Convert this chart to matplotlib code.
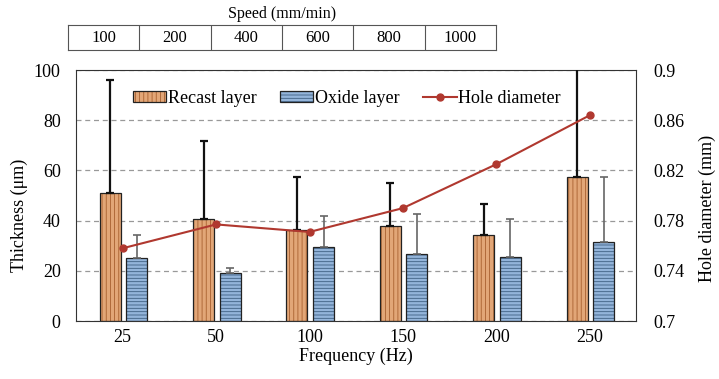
import numpy as np
import matplotlib
matplotlib.use("Agg")
import matplotlib.pyplot as plt
from matplotlib.patches import Patch
from matplotlib.lines import Line2D
from matplotlib.legend_handler import HandlerTuple

plt.rcParams['font.family'] = ['Liberation Serif', 'DejaVu Serif']
plt.rcParams['hatch.linewidth'] = 0.6

# data
freq = ['25', '50', '100', '150', '200', '250']
speed = ['100', '200', '400', '600', '800', '1000']
recast = [50.9, 40.8, 36.3, 37.8, 34.4, 57.2]
recast_err = [45.1, 30.8, 21.2, 17.1, 12.2, 46.0]
oxide = [25.2, 19.0, 29.6, 26.7, 25.5, 31.5]
oxide_err = [9.1, 2.1, 12.2, 15.8, 15.0, 26.0]
hole = [0.758, 0.777, 0.771, 0.790, 0.825, 0.864]

c_rec, h_rec = '#E2A677', '#A8602F'
c_oxi, h_oxi = '#93B4DA', '#3E5F82'
c_line = '#B0382F'
fs = 13

fig = plt.figure(figsize=(7.19, 3.79), dpi=100)
ax = fig.add_axes([0.1057, 0.153, 0.7795, 0.662])
x = np.arange(len(freq))
w = 0.225
xr = x - 0.135
xo = x + 0.15

ax.set_axisbelow(True)
ax.yaxis.grid(True, linestyle=(0, (4, 3)), color='#999999', linewidth=0.9)

ax.bar(xr, recast, w, color=c_rec, edgecolor=h_rec, hatch='||||', linewidth=0, zorder=2)
ax.bar(xr, recast, w, fill=False, edgecolor='#222222', linewidth=0.9, zorder=3)
ax.bar(xo, oxide, w, color=c_oxi, edgecolor=h_oxi, hatch='-----', linewidth=0, zorder=2)
ax.bar(xo, oxide, w, fill=False, edgecolor='#222222', linewidth=0.9, zorder=3)

ax.errorbar(xr, recast, yerr=[np.zeros(6), recast_err], fmt='none', ecolor='#111111',
            elinewidth=1.6, capsize=3, capthick=1.6, zorder=4)
ax.errorbar(xo, oxide, yerr=[np.zeros(6), oxide_err], fmt='none', ecolor='#666666',
            elinewidth=1.2, capsize=3, capthick=1.2, zorder=4)

ax.set_xlim(-0.5, 5.5)
ax.set_ylim(0, 100)
ax.set_yticks([0, 20, 40, 60, 80, 100])
ax.set_xticks(x)
ax.set_xticklabels(freq)
ax.tick_params(axis='y', length=0, labelsize=fs, pad=11)
ax.tick_params(axis='x', length=0, labelsize=fs, pad=6)
ax.set_xlabel('Frequency (Hz)', fontsize=fs, labelpad=1)
for s in ax.spines.values():
    s.set_color('#333333')
    s.set_linewidth(0.8)
fig.text(19 / 719, 1 - 215 / 379, 'Thickness (μm)', rotation=90, ha='center', va='center', fontsize=fs)

ax2 = ax.twinx()
ax2.plot(x, hole, color=c_line, marker='o', markersize=5, linewidth=1.5, zorder=5)
ax2.set_ylim(0.7, 0.9)
ax2.set_yticks([0.7, 0.74, 0.78, 0.82, 0.86, 0.9])
ax2.set_yticklabels(['0.7', '0.74', '0.78', '0.82', '0.86', '0.9'])
ax2.tick_params(length=0, labelsize=fs, pad=12)
for s in ax2.spines.values():
    s.set_visible(False)
fig.text(707 / 719, 1 - 208 / 379, 'Hole diameter (mm)', rotation=90, ha='center', va='center', fontsize=fs)

hr = (Patch(facecolor=c_rec, edgecolor=h_rec, hatch='||||', linewidth=0),
      Patch(fill=False, edgecolor='#222222', linewidth=0.9))
ho = (Patch(facecolor=c_oxi, edgecolor=h_oxi, hatch='-----', linewidth=0),
      Patch(fill=False, edgecolor='#222222', linewidth=0.9))
hl = Line2D([], [], color=c_line, marker='o', markersize=5, linewidth=1.5)
ax2.legend([hr, ho, hl], ['Recast layer', 'Oxide layer', 'Hole diameter'],
           handler_map={tuple: HandlerTuple(ndivide=1, pad=0)},
           loc='upper left', bbox_to_anchor=(0.088, 0.95), ncol=3, frameon=False,
           fontsize=fs, handlelength=1.85, handleheight=0.6, handletextpad=0.1,
           columnspacing=1.3, borderaxespad=0)

# speed table on top
tax = fig.add_axes([68 / 719, 1 - 50 / 379, 428 / 719, 25 / 379])
tax.set_xlim(0, 6)
tax.set_ylim(0, 1)
tax.set_xticks([])
tax.set_yticks([])
for s in tax.spines.values():
    s.set_color('#555555')
    s.set_linewidth(0.8)
for i in range(1, 6):
    tax.axvline(i, color='#555555', linewidth=0.8)
for i, sp in enumerate(speed):
    tax.text(i + 0.5, 0.47, sp, ha='center', va='center', fontsize=12)
fig.text(282 / 719, 1 - 14 / 379, 'Speed (mm/min)', ha='center', va='center', fontsize=11.5)

fig.savefig('out.png', dpi=100)
